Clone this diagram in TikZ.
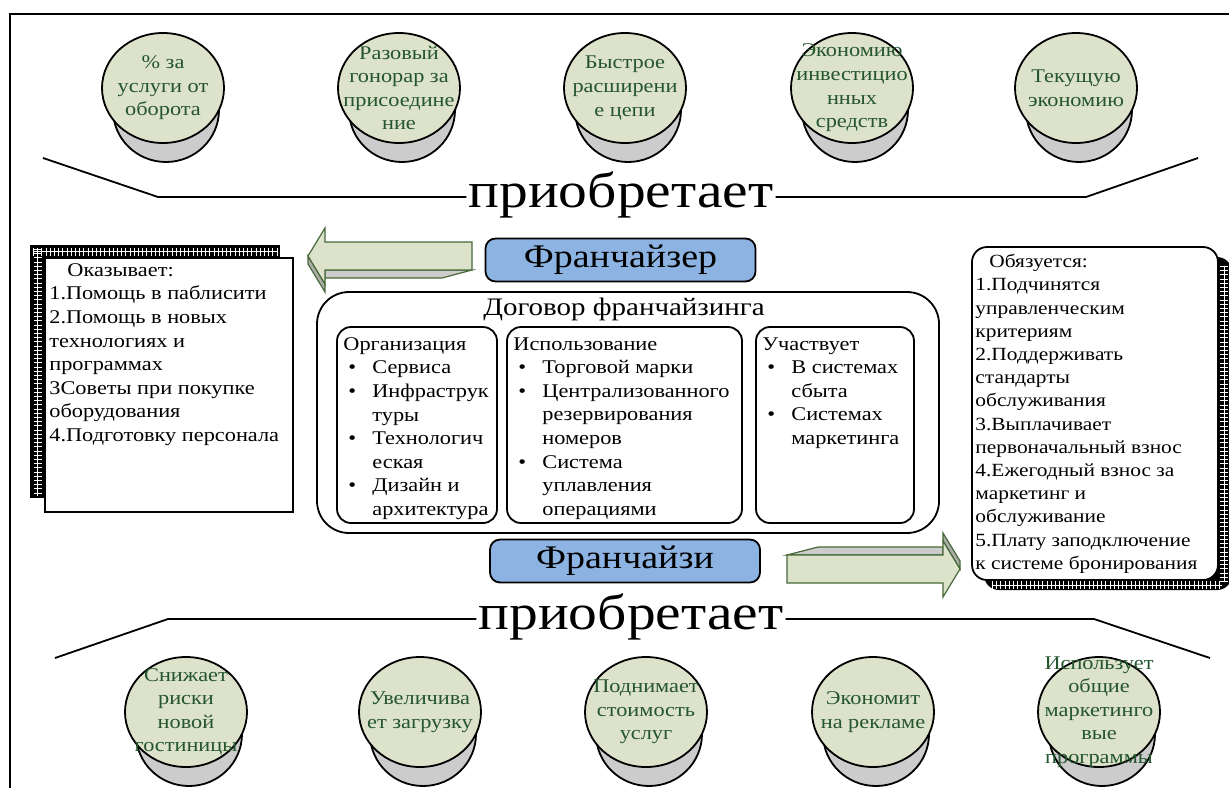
\documentclass[tikz,border=0pt]{standalone}
\usepackage{fontspec}
\setmainfont{Liberation Serif}[FakeStretch=1.15]

\definecolor{sage}{RGB}{221,226,202}
\definecolor{leaf}{RGB}{36,86,46}
\definecolor{arrowline}{RGB}{70,105,55}
\definecolor{roleblue}{RGB}{141,179,226}

\newcommand\fs{\fontsize{9.7}{11.8}\selectfont}
\newcommand\bul{\hspace*{2.5pt}\makebox[12pt][l]{\textbullet}}
\newcommand\cnt{\hspace*{14.5pt}}

\tikzset{
  cyltop/.style={draw, line width=0.9pt, fill=sage},
  cylbase/.style={draw, line width=0.9pt, fill=gray!40},
  cyltext/.style={text=leaf, align=center, font=\fs, inner sep=0pt},
  rolebox/.style={draw, line width=0.9pt, fill=roleblue, rounded corners=5pt,
    minimum width=135pt, minimum height=19.5pt, font=\fontsize{16.5}{19}\selectfont},
  termbox/.style={draw, line width=0.9pt, rounded corners=7pt, minimum height=98pt},
  listtext/.style={align=left, font=\fs, inner sep=0pt, anchor=north west},
  acquire/.style={font=\fontsize{25}{30}\selectfont, inner sep=1pt, anchor=base},
  arrowface/.style={draw=arrowline, fill=sage, line width=0.6pt},
  arrowside/.style={draw=arrowline, fill=gray!40, line width=0.6pt},
  ladder/.style={white, line width=0.4pt,
    postaction={draw=white, line width=4pt, dash pattern=on 0.5pt off 1.6pt}}
}

\begin{document}
\begin{tikzpicture}[x=0.5pt, y=-0.5pt]
    \useasboundingbox (0,0) rectangle (1229,787);
    \draw[line width=1pt] (10,800) -- (10,14) -- (1240,14);

    % what the franchisee gets
    \foreach \cx/\txt [count=\i] in {163/{\%~за\\услуги от\\оборота},
        399/{Разовый\\гонорар за\\присоедине\\ние}, 625/{Быстрое\\расширени\\е цепи},
        852/{Экономию\\инвестицио\\нных\\средств}, 1076/{Текущую\\экономию}}{
      \draw[cylbase] (\cx+3,110) ellipse [x radius=53, y radius=52];
      \draw[cyltop] (\cx,88) ellipse [x radius=61, y radius=55];
      \node[cyltext] (gain\i) at (\cx,88) {\txt};
    }

    % what the franchisor gets
    \foreach \cx/\txt [count=\i] in {186/{Снижает\\риски\\новой\\гостиницы},
        420/{Увеличива\\ет загрузку}, 646/{Поднимает\\стоимость\\услуг},
        873/{Экономит\\на рекламе}, 1099/{Использует\\общие\\маркетинго\\вые\\программы}}{
      \draw[cylbase] (\cx+3,734) ellipse [x radius=53, y radius=52];
      \draw[cyltop] (\cx,712) ellipse [x radius=61, y radius=55];
      \node[cyltext] (plus\i) at (\cx,712) {\txt};
    }

    % the two brackets
    \node[acquire] (acqtop) at (621,207) {приобретает};
    \coordinate (a1) at (43,158);
    \coordinate (a2) at (158,197);
    \coordinate (a3) at (1086,197);
    \coordinate (a4) at (1198,158);
    \draw[line width=0.9pt] (a1) -- (a2) -- (acqtop.west |- a2);
    \draw[line width=0.9pt] (acqtop.east |- a3) -- (a3) -- (a4);

    \node[acquire] (acqbot) at (631,629) {приобретает};
    \coordinate (b1) at (55,658);
    \coordinate (b2) at (168,619);
    \coordinate (b3) at (1094,619);
    \coordinate (b4) at (1210,658);
    \draw[line width=0.9pt] (b1) -- (b2) -- (acqbot.west |- b2);
    \draw[line width=0.9pt] (acqbot.east |- b3) -- (b3) -- (b4);

    % parties
    \node[rolebox] (franchisor) at (620.5,260) {Франчайзер};
    \node[rolebox] (franchisee) at (625,561) {Франчайзи};

    % contract
    \node[draw, line width=0.9pt, rounded corners=16pt, minimum width=311pt,
      minimum height=120.5pt] (contract) at (628,412.5) {};
    \node[font=\fontsize{12.6}{15}\selectfont] (contitle) at (624,309) {Договор франчайзинга};
    \node[termbox, minimum width=80pt] (organize) at (417,425) {};
    \node[termbox, minimum width=117.5pt] (use) at (624.5,425) {};
    \node[termbox, minimum width=79pt] (join) at (835,425) {};
    \node[listtext] (organizetext) at (343,337) {Организация\\
      \bul Сервиса\\ \bul Инфраструк\\ \cnt туры\\ \bul Технологич\\ \cnt еская\\
      \bul Дизайн и\\ \cnt архитектура};
    \node[listtext] (usetext) at (513,337) {Использование\\
      \bul Торговой марки\\ \bul Централизованного\\ \cnt резервирования\\ \cnt номеров\\
      \bul Система\\ \cnt уплавления\\ \cnt операциями};
    \node[listtext] (jointext) at (762,337) {Участвует\\
      \bul В системах\\ \cnt сбыта\\ \bul Системах\\ \cnt маркетинга};

    % franchisor duties
    \fill (30,245) rectangle (280,498);
    \draw[ladder] (33,251.5) -- (278,251.5);
    \draw[ladder] (37.5,249) -- (37.5,496);
    \node[draw, line width=0.9pt, fill=white, minimum width=124pt, minimum height=127pt]
      (gives) at (169,385) {};
    \node[listtext] (givestext) at (49,263) {\hspace*{9pt}Оказывает:\\
      1.Помощь в паблисити\\ 2.Помощь в новых\\ технологиях и\\ программах\\
      3Советы при покупке\\ оборудования\\ 4.Подготовку персонала};

    % franchisee duties
    \fill[rounded corners=7.5pt] (984,257) rectangle (1232,590);
    \draw[ladder] (1224,266) -- (1224,582);
    \draw[ladder] (992,585) -- (1222,585);
    \node[draw, line width=0.9pt, fill=white, rounded corners=7.5pt, minimum width=123pt,
      minimum height=166.5pt] (owes) at (1095,413.5) {};
    \node[listtext, font=\fontsize{9.3}{11.6}\selectfont] (owestext) at (975,254) {\hspace*{7pt}Обязуется:\\
      1.Подчинятся\\ управленческим\\ критериям\\ 2.Поддерживать\\ стандарты\\
      обслуживания\\ 3.Выплачивает\\ первоначальный взнос\\ 4.Ежегодный взнос за\\
      маркетинг и\\ обслуживание\\ 5.Плату заподключение\\ к системе бронирования};

    % block arrows
    \draw[arrowside] (472,270) -- (442,278) -- (325,278) -- (325,270) -- cycle;
    \draw[arrowside, fill=gray!65] (308,256) -- (308,264) -- (325,292) -- (325,284) -- cycle;
    \draw[arrowface] (308,256) -- (325,228) -- (325,242) -- (472,242) -- (472,270)
      -- (325,270) -- (325,284) -- cycle;

    \draw[arrowside] (787,555) -- (818,547) -- (943,547) -- (943,555) -- cycle;
    \draw[arrowside, fill=gray!65] (943,541) -- (943,533) -- (960,561) -- (960,569) -- cycle;
    \draw[arrowface] (787,555) -- (943,555) -- (943,541) -- (960,569) -- (943,597)
      -- (943,583) -- (787,583) -- cycle;
\end{tikzpicture}
\end{document}
